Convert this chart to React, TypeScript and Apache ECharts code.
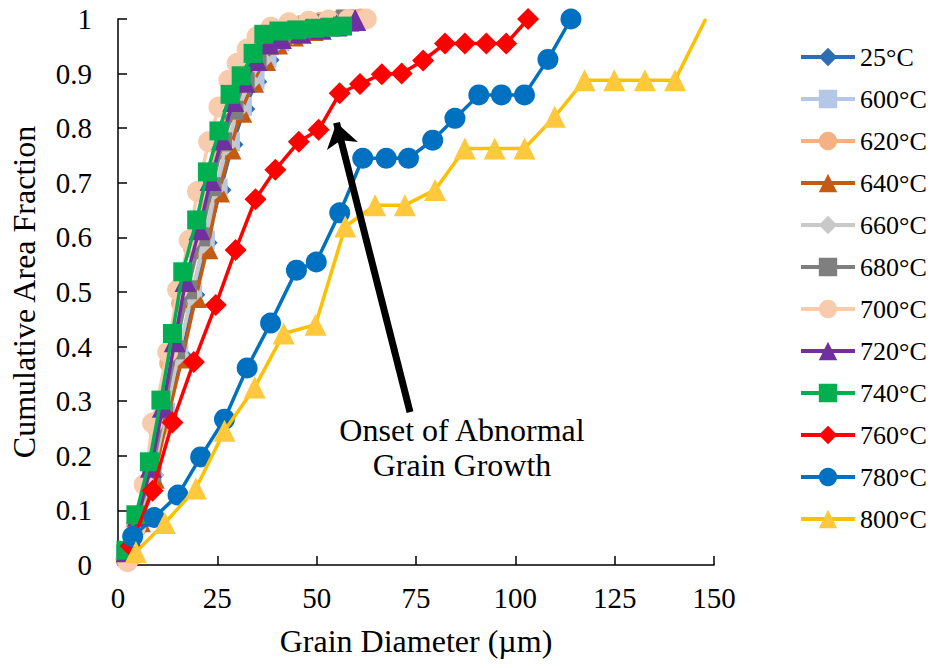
import React, { useEffect, useRef } from "react";
import * as echarts from "echarts";

// ---- data (x: grain diameter µm, y: cumulative area fraction) ----
const s25: [number, number][] = [[2.3,0.02],[5.3,0.085],[8.8,0.165],[12.3,0.275],[15.8,0.385],[19.2,0.495],[22.3,0.59],[25.8,0.687],[28.8,0.77],[31.8,0.835],[34.8,0.885],[37.9,0.925],[41.0,0.955],[45.0,0.972],[50.0,0.986],[55.0,0.995]];
const s600: [number, number][] = [[2.0,0.02],[5.0,0.085],[8.5,0.17],[12.0,0.28],[15.3,0.39],[18.8,0.5],[22.0,0.595],[25.2,0.69],[28.3,0.775],[31.3,0.84],[34.5,0.888],[37.5,0.928],[40.8,0.958],[45.0,0.975],[50.0,0.988],[55.5,0.997]];
const s620: [number, number][] = [[2.0,0.01],[4.8,0.07],[7.5,0.15],[10.0,0.25],[13.0,0.37],[16.0,0.48],[19.0,0.58],[22.0,0.68],[25.0,0.77],[28.0,0.84],[31.0,0.89],[34.0,0.93],[37.5,0.96],[41.5,0.978],[46.0,0.988],[51.0,0.994],[56.0,0.998],[61.0,1.0]];
const s640: [number, number][] = [[2.5,0.02],[5.5,0.08],[9.0,0.16],[12.5,0.27],[16.2,0.38],[19.6,0.491],[22.5,0.58],[25.4,0.684],[28.3,0.763],[31.0,0.83],[34.0,0.885],[37.0,0.925],[40.0,0.955],[44.0,0.97],[49.0,0.98],[54.0,0.99],[58.0,0.997]];
const s660: [number, number][] = [[2.2,0.02],[5.2,0.085],[8.7,0.165],[12.0,0.275],[15.2,0.385],[18.5,0.495],[21.5,0.59],[24.5,0.69],[27.3,0.77],[30.2,0.835],[33.2,0.885],[36.2,0.925],[39.5,0.955],[44.0,0.972],[49.0,0.984],[54.0,0.992],[58.5,0.999]];
const s680: [number, number][] = [[2.0,0.02],[5.0,0.09],[8.5,0.17],[11.5,0.28],[14.5,0.394],[17.5,0.504],[20.8,0.601],[23.7,0.693],[26.3,0.775],[29.2,0.833],[32.0,0.885],[35.0,0.925],[38.0,0.955],[42.0,0.975],[47.0,0.985],[52.0,0.992],[57.2,1.0]];
const s700: [number, number][] = [[2.4,0.006],[4.5,0.07],[6.6,0.147],[8.7,0.26],[12.5,0.39],[15.0,0.504],[17.9,0.595],[20.0,0.684],[22.8,0.775],[25.4,0.839],[27.9,0.888],[30.0,0.919],[32.5,0.945],[35.0,0.968],[38.5,0.985],[43.0,0.993],[48.0,0.996],[53.0,0.998],[58.0,0.999],[62.5,1.0]];
const s720: [number, number][] = [[2.2,0.025],[5.0,0.09],[8.3,0.18],[11.3,0.29],[14.3,0.41],[17.0,0.52],[20.5,0.615],[23.3,0.705],[26.2,0.78],[29.0,0.85],[31.8,0.885],[34.8,0.925],[37.8,0.955],[41.0,0.965],[46.0,0.975],[51.0,0.982],[55.0,0.988],[59.7,0.998]];
const s740: [number, number][] = [[2.0,0.027],[4.5,0.092],[7.9,0.189],[10.8,0.302],[13.7,0.424],[16.3,0.537],[19.8,0.632],[22.5,0.72],[25.4,0.795],[28.2,0.862],[31.0,0.896],[34.0,0.937],[36.7,0.972],[40.5,0.978],[45.0,0.98],[49.5,0.983],[53.5,0.985],[56.5,0.987]];
const s760: [number, number][] = [[3.2,0.035],[8.7,0.136],[13.7,0.261],[19.1,0.372],[24.6,0.476],[29.6,0.577],[34.6,0.67],[39.6,0.724],[45.5,0.775],[50.5,0.797],[55.8,0.864],[60.9,0.881],[66.4,0.899],[71.4,0.9],[76.8,0.924],[82.3,0.955],[87.3,0.955],[92.7,0.955],[97.7,0.955],[103.2,1.0]];
const s780: [number, number][] = [[3.7,0.052],[9.1,0.087],[15.1,0.128],[20.8,0.198],[26.8,0.267],[32.5,0.361],[38.4,0.443],[44.9,0.54],[49.9,0.555],[55.8,0.645],[61.6,0.745],[67.5,0.745],[73.1,0.745],[79.2,0.778],[84.8,0.818],[90.8,0.861],[96.5,0.861],[102.3,0.861],[108.2,0.926],[114.0,1.0]];
const s800: [number, number][] = [[4.5,0.024],[11.8,0.077],[19.6,0.14],[26.8,0.246],[34.4,0.325],[41.7,0.424],[49.7,0.44],[57.2,0.62],[64.7,0.659],[72.2,0.659],[79.8,0.687],[87.3,0.763],[94.8,0.763],[102.3,0.763],[109.9,0.821],[117.4,0.888],[124.9,0.888],[132.6,0.888],[140.2,0.888],[147.9,1.0]];

const seriesNames = ["25°C","600°C","620°C","640°C","660°C","680°C","700°C","720°C","740°C","760°C","780°C","800°C"];
const seriesData = [s25, s600, s620, s640, s660, s680, s700, s720, s740, s760, s780, s800];
const seriesColors = ["#2E6DB4","#B4C7E7","#F4B183","#C55A11","#C9C9C9","#7F7F7F","#F8CBAD","#7030A0","#00B050","#FF0000","#0070C0","#FFC000"];
const markerColors = ["#2E6DB4","#B4C7E7","#F4B183","#C55A11","#C9C9C9","#7F7F7F","#F8CBAD","#7030A0","#00B050","#FF0000","#0070C0","#FFC83D"];
const seriesSymbols = ["diamond","rect","circle","triangle","diamond","rect","circle","triangle","rect","diamond","circle","triangle"];
const symbolSizes: Record<string, number> = { diamond: 22, rect: 19, circle: 21, triangle: 22 };

const xTicks = { min: 0, max: 150, interval: 25 };
const yTicks = { min: 0, max: 1, interval: 0.1 };

const arrowTail = [73.5, 0.28];
const arrowHead = [55.0, 0.81];
const annotationText = "Onset of Abnormal\nGrain Growth";

const FONT = "'Liberation Serif', 'Times New Roman', serif";

export default function App() {
  const ref = useRef<HTMLDivElement>(null);
  useEffect(() => {
    if (!ref.current) return;
    const chart = echarts.init(ref.current, undefined, { renderer: "svg" });
    const series: any[] = seriesNames.map((name, i) => {
      const data = seriesData[i].map((p, j) => {
        if (i === 11 && j === seriesData[i].length - 1) {
          return { value: p, symbol: "none" };
        }
        return p;
      });
      const s: any = {
        name,
        type: "line",
        data,
        symbol: seriesSymbols[i],
        symbolSize: symbolSizes[seriesSymbols[i]],
        clip: false,
        lineStyle: { color: seriesColors[i], width: 3.5 },
        itemStyle: { color: markerColors[i] },
        emphasis: { disabled: true },
        z: 2 + i,
      };
      if (i === 11) {
        s.markLine = {
          silent: true,
          symbol: ["none", "arrow"],
          symbolSize: 24,
          symbolKeepAspect: true,
          lineStyle: { color: "#000", width: 7, type: "solid", opacity: 1 },
          itemStyle: { color: "#000" },
          label: { show: false },
          emphasis: { disabled: true },
          data: [[{ coord: arrowTail }, { coord: arrowHead }]],
          z: 20,
        };
      }
      return s;
    });
    chart.setOption({
      animation: false,
      backgroundColor: "#fff",
      textStyle: { fontFamily: FONT, color: "#000" },
      grid: { left: 117, right: 217, top: 19, bottom: 103, containLabel: false },
      legend: {
        orient: "vertical",
        left: 799,
        top: 43,
        padding: 0,
        itemWidth: 54,
        itemHeight: 23,
        itemGap: 14,
        lineStyle: { width: 4 },
        textStyle: { fontFamily: FONT, fontSize: 26, color: "#000", lineHeight: 28 },
        data: seriesNames,
      },
      xAxis: {
        type: "value",
        min: xTicks.min,
        max: xTicks.max,
        interval: xTicks.interval,
        name: "Grain Diameter (µm)",
        nameLocation: "middle",
        nameGap: 60,
        nameTextStyle: { fontFamily: FONT, fontSize: 32, color: "#000" },
        axisLine: { show: true, lineStyle: { color: "#000", width: 1.5 } },
        axisTick: { show: true, inside: true, length: 9, lineStyle: { color: "#000", width: 1.5 } },
        splitLine: { show: false },
        axisLabel: { fontFamily: FONT, fontSize: 29, color: "#000", margin: 18 },
      },
      yAxis: {
        type: "value",
        min: yTicks.min,
        max: yTicks.max,
        interval: yTicks.interval,
        name: "Cumulative Area Fraction",
        nameLocation: "middle",
        nameGap: 78,
        nameTextStyle: { fontFamily: FONT, fontSize: 32, color: "#000" },
        axisLine: { show: true, lineStyle: { color: "#000", width: 1.5 } },
        axisTick: { show: true, inside: true, length: 9, lineStyle: { color: "#000", width: 1.5 } },
        splitLine: { show: false },
        axisLabel: {
          fontFamily: FONT,
          fontSize: 29,
          color: "#000",
          margin: 26,
          formatter: (v: number) => String(Math.round(v * 10) / 10),
        },
      },
      graphic: [
        {
          type: "text",
          x: 462,
          y: 447,
          silent: true,
          style: {
            text: annotationText,
            align: "center",
            verticalAlign: "middle",
            fontFamily: FONT,
            fontSize: 32,
            lineHeight: 35,
            fill: "#000",
          },
        },
      ],
      series,
    });
    return () => chart.dispose();
  }, []);
  return (
    <div
      ref={ref}
      style={{ position: "fixed", left: 0, top: 0, width: 931, height: 668, background: "#fff" }}
    />
  );
}
